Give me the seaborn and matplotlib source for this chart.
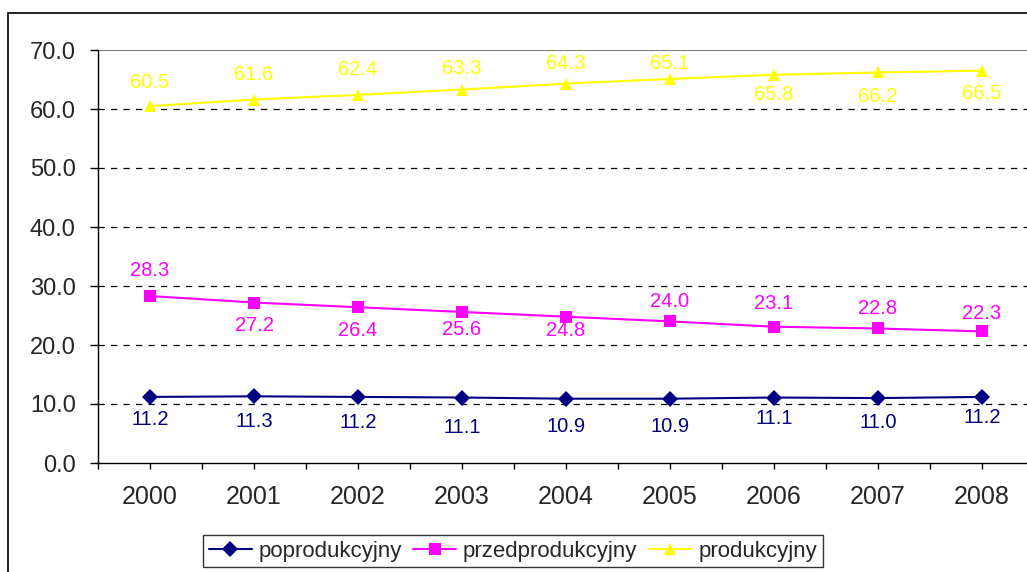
import matplotlib
matplotlib.use("Agg")
import matplotlib.pyplot as plt
import seaborn as sns
import pandas as pd
import numpy as np
from matplotlib.patches import Rectangle
from matplotlib.ticker import FixedLocator
from matplotlib.lines import Line2D

years = ["2000", "2001", "2002", "2003", "2004", "2005", "2006", "2007", "2008"]
poprodukcyjny = [11.2, 11.3, 11.2, 11.1, 10.9, 10.9, 11.1, 11.0, 11.2]
przedprodukcyjny = [28.3, 27.2, 26.4, 25.6, 24.8, 24.0, 23.1, 22.8, 22.3]
produkcyjny = [60.5, 61.6, 62.4, 63.3, 64.3, 65.1, 65.8, 66.2, 66.5]
series_names = ["poprodukcyjny", "przedprodukcyjny", "produkcyjny"]
colors = {"poprodukcyjny": "#000080", "przedprodukcyjny": "#FF00FF", "produkcyjny": "#FFFF00"}
markers = {"poprodukcyjny": "D", "przedprodukcyjny": "s", "produkcyjny": "^"}
# label vertical offsets in pixels (positive = above the point)
label_offset_px = {
    "poprodukcyjny": [-23, -25, -26, -30, -28, -28, -21, -24, -21],
    "przedprodukcyjny": [26, -23, -23, -18, -14, 20, 23, 20, 18],
    "produkcyjny": [24, 25, 25, 21, 20, 15, -20, -24, -23],
}

values = {"poprodukcyjny": poprodukcyjny, "przedprodukcyjny": przedprodukcyjny, "produkcyjny": produkcyjny}
rows = []
for s in series_names:
    for i, v in enumerate(values[s]):
        rows.append({"x": i, "value": v, "series": s})
df = pd.DataFrame(rows)

sns.set_style("white")
plt.rcParams["font.family"] = ["Liberation Sans", "DejaVu Sans"]

fig = plt.figure(figsize=(10.27, 5.72), dpi=100)
ax = fig.add_axes([98 / 1027, 1 - 463 / 572, (1034 - 98) / 1027, (463 - 50) / 572])

sns.lineplot(data=df, x="x", y="value", hue="series", style="series",
             palette=colors, markers=markers, dashes=False, ax=ax,
             markersize=8, linewidth=1.5, markeredgewidth=0, legend=False)

ax.set_xlim(-0.5, 8.5)
ax.set_ylim(0, 70)
ax.set_yticks(np.arange(0, 71, 10))
ax.set_yticklabels([f"{v:.1f}" for v in np.arange(0, 71, 10)], fontsize=17)
ax.set_xticks(range(9))
ax.set_xticklabels(years, fontsize=18)
ax.xaxis.set_minor_locator(FixedLocator(np.arange(-0.5, 9, 1)))
ax.tick_params(axis="x", which="both", direction="out", length=4.5, width=1, color="black", bottom=True, pad=11)
ax.tick_params(axis="y", direction="out", length=6, width=1, color="black", left=True, pad=10)
ax.set_xlabel("")
ax.set_ylabel("")

for g in np.arange(10, 70, 10):
    ax.axhline(g, color="black", linestyle=(0, (5, 5)), linewidth=0.9, zorder=0)
ax.axhline(70, color="#808080", linewidth=1.5, zorder=0)

for side in ["top", "right"]:
    ax.spines[side].set_visible(False)
ax.spines["left"].set_color("black")
ax.spines["bottom"].set_color("black")
ax.spines["left"].set_linewidth(1.0)
ax.spines["bottom"].set_linewidth(1.0)

for s in series_names:
    for i, v in enumerate(values[s]):
        off = label_offset_px[s][i] * 0.72
        ax.annotate(f"{v:.1f}", (i, v), xytext=(0, off), textcoords="offset points",
                    ha="center", va="center", fontsize=14.5, color=colors[s])

# legend
handles = [Line2D([], [], color=colors[s], marker=markers[s], markersize=8,
                  markeredgewidth=0, linewidth=1.5) for s in series_names]
leg = fig.legend(handles, series_names, loc="upper left",
                 bbox_to_anchor=(203 / 1027, 1 - 535 / 572), ncol=3, fontsize=16,
                 frameon=True, fancybox=False, edgecolor="black", handlelength=1.95,
                 handletextpad=0.3, columnspacing=0.5, borderpad=0.25, borderaxespad=0)
leg.get_frame().set_linewidth(1.0)

# outer chart border
fig.patches.append(Rectangle((8 / 1027, -0.1), 1.2, 1 - 13 / 572 + 0.1,
                             transform=fig.transFigure, fill=False,
                             edgecolor="black", linewidth=1.2))

fig.savefig("out.png", dpi=100)
